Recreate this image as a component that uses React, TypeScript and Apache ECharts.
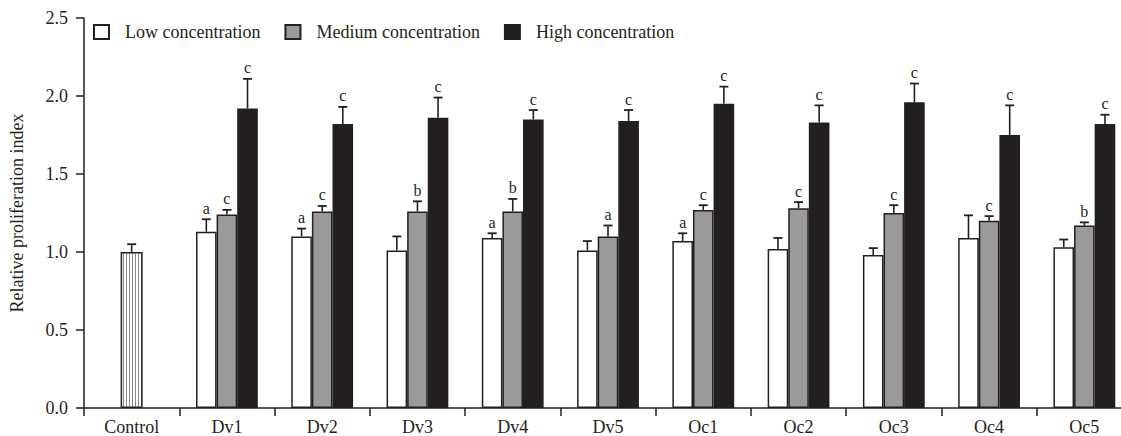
import React, { useEffect, useRef } from "react";
import * as echarts from "echarts";

const categories = ["Control", "Dv1", "Dv2", "Dv3", "Dv4", "Dv5", "Oc1", "Oc2", "Oc3", "Oc4", "Oc5"];
const seriesNames = ["Low concentration", "Medium concentration", "High concentration"];
const yTicks = [0, 0.5, 1.0, 1.5, 2.0, 2.5];

const controlValue = 1.0;
const controlSD = 0.05;

const lowValues = [1.13, 1.10, 1.01, 1.09, 1.01, 1.07, 1.02, 0.98, 1.09, 1.03];
const lowSD = [0.08, 0.05, 0.09, 0.03, 0.06, 0.05, 0.07, 0.045, 0.145, 0.05];
const lowLetters = ["a", "a", "", "a", "", "a", "", "", "", ""];

const mediumValues = [1.24, 1.26, 1.26, 1.26, 1.10, 1.27, 1.28, 1.25, 1.20, 1.17];
const mediumSD = [0.03, 0.035, 0.065, 0.08, 0.07, 0.03, 0.04, 0.05, 0.03, 0.02];
const mediumLetters = ["c", "c", "b", "b", "a", "c", "c", "c", "c", "b"];

const highValues = [1.92, 1.82, 1.86, 1.85, 1.84, 1.95, 1.83, 1.96, 1.75, 1.82];
const highSD = [0.19, 0.11, 0.13, 0.06, 0.07, 0.11, 0.11, 0.12, 0.19, 0.06];
const highLetters = ["c", "c", "c", "c", "c", "c", "c", "c", "c", "c"];

const FONT = "'Liberation Serif', 'Times New Roman', serif";
const INK = "#231f20";
const BAR_W = 20.6;

function makeStripePattern() {
  const c = document.createElement("canvas");
  c.width = 3;
  c.height = 4;
  const ctx = c.getContext("2d")!;
  ctx.fillStyle = "#ffffff";
  ctx.fillRect(0, 0, 3, 4);
  ctx.fillStyle = "#8a8a8a";
  ctx.fillRect(0, 0, 1, 4);
  return { image: c, repeat: "repeat" } as any;
}

function errorSeries(values: number[], sds: number[], letters: string[], offset: number, idx: number) {
  const data = values.map((v, i) => [i + 1, v, v + sds[i]]);
  return {
    type: "custom",
    name: "err" + idx,
    xAxisIndex: 0,
    z: 10,
    silent: true,
    encode: { x: 0, y: 1 },
    data,
    renderItem: (params: any, api: any) => {
      const cat = api.value(0);
      const v = api.value(1);
      const t = api.value(2);
      const letter = letters[params.dataIndex];
      const p = api.coord([cat, v]);
      const q = api.coord([cat, t]);
      const x = p[0] + offset;
      const children: any[] = [
        { type: "line", shape: { x1: x, y1: p[1], x2: x, y2: q[1] }, style: { stroke: INK, lineWidth: 1.6 } },
        { type: "line", shape: { x1: x - 4.5, y1: q[1], x2: x + 4.5, y2: q[1] }, style: { stroke: INK, lineWidth: 1.8 } },
      ];
      if (letter) {
        children.push({
          type: "text",
          x,
          y: q[1] - 3,
          style: { text: letter, fill: INK, font: `16px ${FONT}`, textAlign: "center", textVerticalAlign: "bottom" },
        });
      }
      return { type: "group", children };
    },
  };
}

export default function App() {
  const ref = useRef<HTMLDivElement>(null);
  useEffect(() => {
    if (!ref.current) return;
    const chart = echarts.init(ref.current, undefined, { renderer: "svg" });
    const pad = (arr: number[]) => ["-", ...arr];
    const barStyle = (color: any) => ({ color, borderColor: INK, borderWidth: 1.5 });
    const option: any = {
      animation: false,
      backgroundColor: "#ffffff",
      textStyle: { fontFamily: FONT },
      grid: { left: 80, top: 18, bottom: 28, right: 0, containLabel: false },
      legend: {
        data: seriesNames,
        left: 88,
        top: 18,
        itemWidth: 15,
        itemHeight: 14,
        itemGap: 24,
        icon: "rect",
        textStyle: { fontFamily: FONT, fontSize: 18, color: INK, padding: [0, 0, 0, 11] },
      },
      xAxis: [
        {
          type: "category",
          data: categories,
          axisLine: { lineStyle: { color: INK, width: 1.5 } },
          axisTick: { show: true, length: 8, lineStyle: { color: INK, width: 1.5 } },
          axisLabel: { color: INK, fontSize: 18, fontFamily: FONT, margin: 10 },
        },
        { type: "category", data: categories, show: false },
      ],
      yAxis: {
        type: "value",
        min: yTicks[0],
        max: yTicks[yTicks.length - 1],
        interval: 0.5,
        name: "Relative proliferation index",
        nameLocation: "middle",
        nameGap: 58,
        nameTextStyle: { fontFamily: FONT, fontSize: 18, color: INK },
        axisLine: { show: true, lineStyle: { color: INK, width: 1.5 } },
        axisTick: { show: true, length: 8, lineStyle: { color: INK, width: 1.5 } },
        axisLabel: { color: INK, fontSize: 18, fontFamily: FONT, margin: 16, formatter: (v: number) => v.toFixed(1) },
        splitLine: { show: false },
      },
      series: [
        {
          type: "bar",
          name: "Control",
          xAxisIndex: 1,
          barWidth: 22,
          data: [controlValue, ...categories.slice(1).map(() => "-")],
          itemStyle: barStyle(makeStripePattern()),
        },
        {
          type: "bar",
          name: seriesNames[0],
          barWidth: BAR_W,
          barGap: "0%",
          data: pad(lowValues),
          itemStyle: barStyle("#ffffff"),
        },
        {
          type: "bar",
          name: seriesNames[1],
          barWidth: BAR_W,
          barGap: "0%",
          data: pad(mediumValues),
          itemStyle: barStyle("#9a9a9a"),
        },
        {
          type: "bar",
          name: seriesNames[2],
          barWidth: BAR_W,
          barGap: "0%",
          data: pad(highValues),
          itemStyle: barStyle(INK),
        },
        {
          type: "custom",
          name: "errControl",
          xAxisIndex: 1,
          z: 10,
          silent: true,
          encode: { x: 0, y: 1 },
          data: [[0, controlValue, controlValue + controlSD]],
          renderItem: (params: any, api: any) => {
            const p = api.coord([api.value(0), api.value(1)]);
            const q = api.coord([api.value(0), api.value(2)]);
            const x = p[0];
            return {
              type: "group",
              children: [
                { type: "line", shape: { x1: x, y1: p[1], x2: x, y2: q[1] }, style: { stroke: INK, lineWidth: 1.6 } },
                { type: "line", shape: { x1: x - 4.5, y1: q[1], x2: x + 4.5, y2: q[1] }, style: { stroke: INK, lineWidth: 1.8 } },
              ],
            };
          },
        },
        errorSeries(lowValues, lowSD, lowLetters, -BAR_W, 0),
        errorSeries(mediumValues, mediumSD, mediumLetters, 0, 1),
        errorSeries(highValues, highSD, highLetters, BAR_W, 2),
      ],
    };
    chart.setOption(option);
    return () => chart.dispose();
  }, []);
  return <div ref={ref} style={{ position: "fixed", left: 0, top: 0, width: 1132, height: 436 }} />;
}
